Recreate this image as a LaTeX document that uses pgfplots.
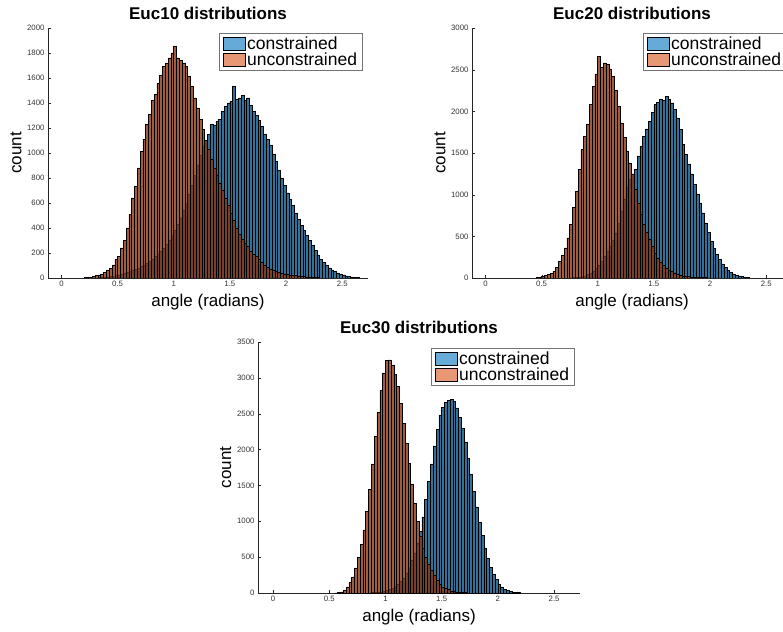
\documentclass[border=0pt]{standalone}
\usepackage{fontspec}
\setmainfont{Liberation Sans}
\usepackage{pgfplots}
\pgfplotsset{compat=1.18}

\definecolor{mblue}{rgb}{0,0.447,0.741}
\definecolor{morange}{rgb}{0.85,0.325,0.098}
% bar faces look darker than the legend patches because of the dense black edges
\colorlet{bblue}{mblue!68!black}
\colorlet{borange}{morange!63!black}

\pgfplotsset{
  hbar/.style 2 args={ybar interval, draw=black, line width=0.6pt, fill=#1, fill opacity=0.8,
    legend image code/.code={\draw[draw=black, line width=0.5pt, fill=#2, fill opacity=0.6] (0pt,-6pt) rectangle (22pt,7pt);}},
  panel/.style={
    scale only axis, anchor=south west,
    width=320pt, height=250pt,
    ymin=0, xmin=-0.12, xmax=2.73,
    axis x line=bottom, axis y line=left, axis line style={-, black!85, line width=0.6pt},
    tick align=inside, major tick length=3pt, tick style={black!85},
    xtick={0,0.5,1,1.5,2,2.5},
    scaled y ticks=false,
    /pgf/number format/1000 sep={},
    /pgf/number format/assume math mode=true,
    tick label style={font=\fontsize{7.8}{9}\selectfont, text=black!80},
    xlabel={angle (radians)}, ylabel={count},
    label style={font=\fontsize{17}{20}\selectfont},
    xlabel style={at={(axis description cs:0.5,-0.096)}, anchor=center},
    ylabel style={at={(axis description cs:-0.1,0.5)}, anchor=center},
    title style={at={(axis description cs:0.5,1.036)}, anchor=center, font=\fontsize{17}{20}\selectfont\bfseries},
    legend cell align=left,
    legend style={font=\fontsize{17.5}{20}\selectfont, draw=black!55, line width=0.5pt,
      inner xsep=3.5pt, inner ysep=1.5pt, row sep=-2pt, anchor=north west},
  },
}

\begin{document}
\begin{tikzpicture}
\useasboundingbox (0pt,0pt) rectangle (783pt,631pt);

% Euc10
\begin{axis}[panel, at={(48pt,353pt)}, ymax=2000, ytick={0,200,...,2000},
  title={Euc10 distributions}, legend style={at={(0.534,0.98)}}]
\addplot[hbar={bblue}{mblue}] coordinates {
(0.300,1)(0.325,2)(0.350,3)(0.375,5)(0.400,8)(0.425,11)(0.450,15)(0.475,20)
(0.500,25)(0.525,30)(0.550,37)(0.575,44)(0.600,50)(0.625,58)(0.650,68)(0.675,78)
(0.700,90)(0.725,104)(0.750,118)(0.775,134)(0.800,150)(0.825,170)(0.850,192)(0.875,215)
(0.900,240)(0.925,270)(0.950,300)(0.975,340)(1.000,380)(1.025,430)(1.050,480)(1.075,540)
(1.100,600)(1.125,670)(1.150,740)(1.175,820)(1.200,900)(1.225,980)(1.250,1050)(1.275,1100)
(1.300,1150)(1.325,1230)(1.350,1220)(1.375,1250)(1.400,1270)(1.425,1330)(1.450,1370)(1.475,1400)
(1.500,1410)(1.525,1530)(1.550,1430)(1.575,1440)(1.600,1460)(1.625,1420)(1.650,1440)(1.675,1380)
(1.700,1330)(1.725,1300)(1.750,1260)(1.775,1210)(1.800,1150)(1.825,1110)(1.850,1060)(1.875,990)
(1.900,930)(1.925,860)(1.950,800)(1.975,740)(2.000,680)(2.025,630)(2.050,580)(2.075,520)
(2.100,470)(2.125,420)(2.150,380)(2.175,340)(2.200,300)(2.225,260)(2.250,220)(2.275,185)
(2.300,150)(2.325,125)(2.350,100)(2.375,80)(2.400,65)(2.425,52)(2.450,40)(2.475,31)
(2.500,24)(2.525,17)(2.550,12)(2.575,8)(2.600,5)(2.625,2)(2.650,2)
};
\addlegendentry{constrained}
\addplot[hbar={borange}{morange}] coordinates {
(0.200,2)(0.225,4)(0.250,8)(0.275,12)(0.300,18)(0.325,25)(0.350,33)(0.375,44)
(0.400,60)(0.425,78)(0.450,105)(0.475,150)(0.500,172)(0.525,240)(0.550,300)(0.575,400)
(0.600,510)(0.625,640)(0.650,730)(0.675,880)(0.700,1010)(0.725,1110)(0.750,1230)(0.775,1310)
(0.800,1420)(0.825,1470)(0.850,1560)(0.875,1620)(0.900,1690)(0.925,1720)(0.950,1760)(0.975,1800)
(1.000,1850)(1.025,1760)(1.050,1740)(1.075,1720)(1.100,1690)(1.125,1610)(1.150,1530)(1.175,1440)
(1.200,1360)(1.225,1270)(1.250,1190)(1.275,1100)(1.300,1030)(1.325,950)(1.350,880)(1.375,820)
(1.400,760)(1.425,700)(1.450,640)(1.475,580)(1.500,520)(1.525,460)(1.550,400)(1.575,350)
(1.600,310)(1.625,280)(1.650,250)(1.675,215)(1.700,190)(1.725,170)(1.750,150)(1.775,125)
(1.800,105)(1.825,85)(1.850,70)(1.875,60)(1.900,50)(1.925,43)(1.950,37)(1.975,32)
(2.000,28)(2.025,24)(2.050,21)(2.075,18)(2.100,15)(2.125,12)(2.150,10)(2.175,8)
(2.200,6)(2.225,4)(2.250,3)(2.275,2)(2.300,2)
};
\addlegendentry{unconstrained}
\end{axis}

% Euc20
\begin{axis}[panel, at={(472pt,353pt)}, ymax=3000, ytick={0,500,...,3000},
  title={Euc20 distributions}, legend style={at={(0.534,0.98)}}]
\addplot[hbar={bblue}{mblue}] coordinates {
(0.750,2)(0.775,4)(0.800,6)(0.825,10)(0.850,16)(0.875,26)(0.900,40)(0.925,58)
(0.950,85)(0.975,115)(1.000,150)(1.025,200)(1.050,255)(1.075,315)(1.100,380)(1.125,450)
(1.150,540)(1.175,660)(1.200,800)(1.225,950)(1.250,1090)(1.275,1180)(1.300,1250)(1.325,1300)
(1.350,1460)(1.375,1580)(1.400,1700)(1.425,1790)(1.450,1880)(1.475,1990)(1.500,2080)(1.525,2110)
(1.550,2140)(1.575,2130)(1.600,2180)(1.625,2140)(1.650,2100)(1.675,2020)(1.700,1920)(1.725,1780)
(1.750,1600)(1.775,1480)(1.800,1370)(1.825,1250)(1.850,1120)(1.875,1000)(1.900,900)(1.925,780)
(1.950,660)(1.975,550)(2.000,440)(2.025,360)(2.050,280)(2.075,220)(2.100,170)(2.125,125)
(2.150,95)(2.175,70)(2.200,50)(2.225,35)(2.250,24)(2.275,16)(2.300,10)(2.325,5)(2.350,5)
};
\addlegendentry{constrained}
\addplot[hbar={borange}{morange}] coordinates {
(0.450,3)(0.475,8)(0.500,18)(0.525,28)(0.550,40)(0.575,58)(0.600,80)(0.625,130)
(0.650,200)(0.675,270)(0.700,360)(0.725,480)(0.750,640)(0.775,850)(0.800,1040)(0.825,1300)
(0.850,1540)(0.875,1700)(0.900,1850)(0.925,2080)(0.950,2300)(0.975,2450)(1.000,2660)(1.025,2530)
(1.050,2580)(1.075,2570)(1.100,2510)(1.125,2420)(1.150,2250)(1.175,2060)(1.200,1860)(1.225,1690)
(1.250,1520)(1.275,1380)(1.300,1250)(1.325,1060)(1.350,900)(1.375,770)(1.400,650)(1.425,550)
(1.450,470)(1.475,380)(1.500,300)(1.525,240)(1.550,190)(1.575,150)(1.600,115)(1.625,95)
(1.650,75)(1.675,58)(1.700,42)(1.725,32)(1.750,24)(1.775,19)(1.800,15)(1.825,11)
(1.850,8)(1.875,7)(1.900,6)(1.925,4)(1.950,3)(1.975,2)(2.000,2)
};
\addlegendentry{unconstrained}
\end{axis}

% Euc30
\begin{axis}[panel, at={(258pt,38pt)}, width=322pt, height=251pt, xmin=-0.133,
  ymax=3500, ytick={0,500,...,3500},
  title={Euc30 distributions}, legend style={at={(0.537,0.976)}}]
\addplot[hbar={bblue}{mblue}] coordinates {
(0.850,2)(0.875,4)(0.900,7)(0.925,11)(0.950,16)(0.975,24)(1.000,34)(1.025,48)
(1.050,66)(1.075,90)(1.100,120)(1.125,160)(1.150,210)(1.175,280)(1.200,360)(1.225,450)
(1.250,560)(1.275,700)(1.300,860)(1.325,1060)(1.350,1300)(1.375,1560)(1.400,1800)(1.425,2050)
(1.450,2280)(1.475,2480)(1.500,2590)(1.525,2660)(1.550,2690)(1.575,2700)(1.600,2670)(1.625,2580)
(1.650,2450)(1.675,2300)(1.700,2100)(1.725,1880)(1.750,1650)(1.775,1420)(1.800,1200)(1.825,990)
(1.850,800)(1.875,630)(1.900,480)(1.925,360)(1.950,260)(1.975,185)(2.000,125)(2.025,85)
(2.050,55)(2.075,35)(2.100,22)(2.125,13)(2.150,7)(2.175,3)(2.200,3)
};
\addlegendentry{constrained}
\addplot[hbar={borange}{morange}] coordinates {
(0.550,2)(0.575,6)(0.600,14)(0.625,40)(0.650,85)(0.675,145)(0.700,225)(0.725,350)
(0.750,500)(0.775,680)(0.800,880)(0.825,1140)(0.850,1440)(0.875,1800)(0.900,2180)(0.925,2520)
(0.950,2830)(0.975,3070)(1.000,3240)(1.025,3250)(1.050,3180)(1.075,3050)(1.100,2880)(1.125,2640)
(1.150,2370)(1.175,2090)(1.200,1810)(1.225,1520)(1.250,1250)(1.275,1000)(1.300,790)(1.325,630)
(1.350,500)(1.375,400)(1.400,315)(1.425,240)(1.450,175)(1.475,125)(1.500,85)(1.525,62)
(1.550,45)(1.575,30)(1.600,20)(1.625,13)(1.650,8)(1.675,5)(1.700,3)(1.725,1)(1.750,1)
};
\addlegendentry{unconstrained}
\end{axis}
\end{tikzpicture}
\end{document}
